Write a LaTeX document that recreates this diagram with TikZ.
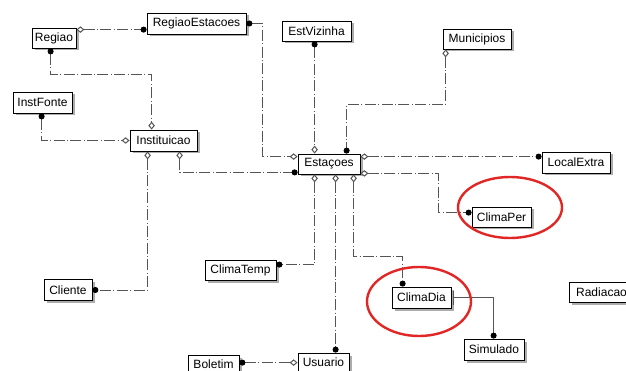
\documentclass[tikz,border=0pt]{standalone}
\usepackage{fontspec}
\setmainfont{Liberation Sans}
\usetikzlibrary{arrows.meta,calc,shadows}
\definecolor{lnc}{RGB}{85,85,85}
\definecolor{hl}{RGB}{225,38,38}
\tikzset{
  ent/.style={draw=black, line width=0.8pt, fill=white, inner sep=0pt,
    font=\fontsize{12}{13}\selectfont,
    drop shadow={shadow xshift=2.5pt, shadow yshift=-2.5pt, fill=gray!65, opacity=1}},
  rel/.style={draw=lnc, line width=1pt, dash pattern=on 11pt off 2.5pt on 0.8pt off 2.5pt},
  dm/.style={rel, {Diamond[open,length=8pt,width=6.5pt,fill=white]}-{Circle[length=6pt,color=black]}},
  md/.style={rel, {Circle[length=6pt,color=black]}-{Diamond[open,length=8pt,width=6.5pt,fill=white]}},
  raised/.style={text depth=5.5pt},
  hlring/.style={draw=hl, line width=2.4pt}
}
\begin{document}
\begin{tikzpicture}[x=1pt,y=-1pt]
\clip (0,0) rectangle (626,371);
\useasboundingbox (0,0) rectangle (626,371);
\fill[white] (0,0) rectangle (626,371);
% entities
\node[ent, minimum width=44pt, minimum height=20pt] (Regiao) at (54,38) {Regiao};
\node[ent, minimum width=99pt, minimum height=21pt] (RegiaoEstacoes) at (196.5,23.5) {RegiaoEstacoes};
\node[ent, minimum width=69pt, minimum height=20pt] (EstVizinha) at (316.5,31) {EstVizinha};
\node[ent, minimum width=68pt, minimum height=20pt] (Municipios) at (477,39) {Municipios};
\node[ent, minimum width=59pt, minimum height=21pt] (InstFonte) at (42.5,102.5) {InstFonte};
\node[ent, minimum width=67pt, minimum height=21pt] (Instituicao) at (163.5,140.5) {Instituicao};
\node[ent, minimum width=62pt, minimum height=20pt] (Estacoes) at (329,164) {Estaçoes};
\node[ent, minimum width=68pt, minimum height=21pt] (LocalExtra) at (576,162.5) {LocalExtra};
\node[ent, minimum width=59pt, minimum height=20pt] (ClimaPer) at (501.5,217) {ClimaPer};
\node[ent, minimum width=71pt, minimum height=20pt] (ClimaTemp) at (240.5,270) {ClimaTemp};
\node[ent, minimum width=48pt, minimum height=21pt] (Cliente) at (68,290) {Cliente};
\node[ent, raised, minimum width=51pt, minimum height=23pt] (Boletim) at (213.5,366.5) {Boletim};
\node[ent, raised, minimum width=51pt, minimum height=23pt] (Usuario) at (323.5,364.5) {Usuario};
\node[ent, minimum width=59pt, minimum height=21pt] (ClimaDia) at (421.5,297.5) {ClimaDia};
\node[ent, minimum width=65pt, minimum height=20pt] (Radiacao) at (601.5,292) {Radiacao};
\node[ent, minimum width=60pt, minimum height=21pt] (Simulado) at (494,349.5) {Simulado};
% relationships
\draw[dm] ($(Regiao.north east)+(0,2)$) -- ($(RegiaoEstacoes.north west)+(0,17)$);
\draw[md] (RegiaoEstacoes.east) -- ++(16,0) |- ($(Estacoes.north west)+(0,3)$);
\draw[md] ($(Regiao.south west)+(19,0)$) -- ++(0,26) -| ($(Instituicao.north west)+(22,0)$);
\draw[md] ($(InstFonte.south west)+(29,0)$) |- (Instituicao.west);
\draw[dm] ($(Instituicao.south west)+(18,0)$) |- (Cliente.east);
\draw[dm] ($(Instituicao.south west)+(50,0)$) |- ($(Estacoes.south west)+(0,-2)$);
\draw[md] ($(EstVizinha.south west)+(33,0)$) -- ($(Estacoes.north west)+(17,0)$);
\draw[dm] ($(Municipios.south west)+(3,0)$) -- ++(0,55) -| ($(Estacoes.north west)+(49,0)$);
\draw[dm] ($(Estacoes.north east)+(0,3)$) -- ($(LocalExtra.north west)+(0,5)$);
\draw[dm] ($(Estacoes.south east)+(0,-1)$) -- ++(78,0) |- ($(ClimaPer.north west)+(0,6)$);
\draw[dm] ($(Estacoes.south west)+(17,0)$) |- ($(ClimaTemp.north east)+(0,5)$);
\draw[dm] ($(Estacoes.south west)+(38,0)$) -- ($(Usuario.north west)+(38,0)$);
\draw[dm] ($(Estacoes.south west)+(56,0)$) -- ++(0,82) -| ($(ClimaDia.north west)+(11,0)$);
\draw[draw=lnc, line width=1pt, {Bar[width=14pt,line width=0.9pt]}-{Circle[length=6pt,color=black]}]
  ($(ClimaDia.east)+(2,0)$) -| ($(Simulado.north west)+(30,0)$);
\draw[md] ($(Boletim.north east)+(0,8)$) -- ($(Usuario.north west)+(0,10)$);
% highlight rings
\draw[hlring] (510,207.5) ellipse [x radius=52, y radius=30.5];
\draw[hlring] (419,301.5) ellipse [x radius=52, y radius=34.5];
\end{tikzpicture}
\end{document}
